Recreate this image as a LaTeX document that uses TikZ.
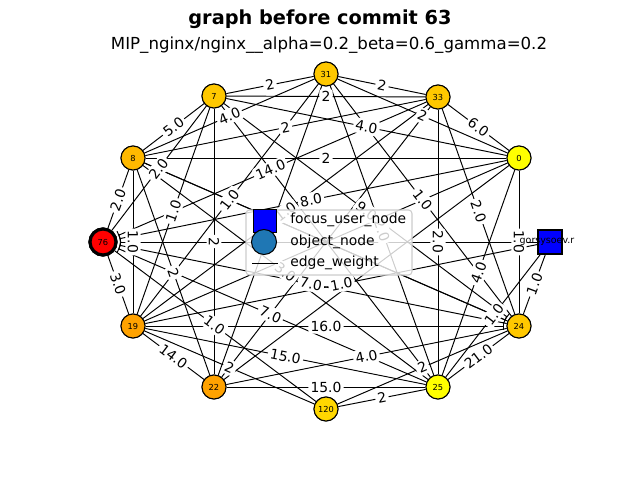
\documentclass[tikz,border=0pt]{standalone}
\usepackage{fontspec}
\setmainfont{DejaVu Sans}
\usetikzlibrary{arrows.meta}
\definecolor{cgold}{RGB}{255,200,0}
\definecolor{cgoldb}{RGB}{255,185,0}
\definecolor{corange}{RGB}{255,162,0}
\definecolor{cyel}{RGB}{255,255,0}
\definecolor{cgoldc}{RGB}{255,215,0}
\definecolor{mplblue}{RGB}{31,119,180}
\begin{document}
\begin{tikzpicture}[x=0.02cm,y=-0.02cm,
  obj/.style={circle,draw=black,line width=0.6pt,minimum size=0.48cm,inner sep=0pt,font=\fontsize{4.7}{5}\selectfont},
  edge/.style={draw=black,line width=0.55pt},
  lbl/.style={fill=white,inner sep=1.3pt,rounded corners=1.5pt,font=\fontsize{7.9}{8}\selectfont,sloped},
  intip/.style={-{Bar[width=5pt,line width=0.55pt]},shorten >=1.2pt},
  legtxt/.style={anchor=west,font=\fontsize{7.9}{8}\selectfont,inner sep=0pt}
]
\useasboundingbox (0,0) rectangle (640,480);
% titles
\node[font=\bfseries\fontsize{11}{13}\selectfont] (title) at (320,19) {graph before commit 63};
\node[font=\fontsize{9.45}{11}\selectfont] (sub) at (329,45) {MIP\_nginx/nginx\_\_alpha=0.2\_beta=0.6\_gamma=0.2};
% nodes
\node[obj,fill=cgold] (n31) at (326,74) {31};
\node[obj,fill=cgold] (n33) at (438,97) {33};
\node[obj,fill=cgold] (n7) at (214,96) {7};
\node[obj,fill=cgoldb] (n8) at (133,158) {8};
\node[obj,fill=cyel] (n0) at (519,158) {0};
\node[obj,fill=red,line width=1.8pt,minimum size=0.52cm] (n76) at (103,242) {76};
\node[draw=black,fill=blue,line width=0.6pt,minimum size=0.48cm,inner sep=0pt] (nsq) at (550,242) {};
\node[obj,fill=corange] (n19) at (133,326) {19};
\node[obj,fill=cgold] (n24) at (519,326) {24};
\node[obj,fill=corange] (n22) at (214,387) {22};
\node[obj,fill=cyel] (n25) at (438,387) {25};
\node[obj,fill=cgoldc] (n120) at (326,409) {120};
% edges
\foreach \a/\b in {n7/n31,n31/n33,n7/n33,n8/n7,n33/n0,n8/n31,n7/n0,n8/n33,n31/n0,n8/n0,
  n76/n7,n8/n76,n7/n19,n31/n19,n8/n19,n7/n22,n33/n25,n0/n24,n31/n24,n33/n24,
  nsq/n24,nsq/n25,n76/n19,n19/n22,n22/n25,n120/n25,n24/n25,n19/n25,n22/n24,n24/n120,
  n19/n120,n76/n120,n8/n22,n8/n25,n19/nsq,n0/n25,n33/n19,n31/n25,
  n31/n22,n7/n25,n0/n19,n0/n22,n33/n22,n8/n24}
  \draw[edge] (\a) -- (\b);
\foreach \a/\b in {n33/n76,n0/n76,nsq/n76,n24/n76,n25/n76,n19/n24,n8/n24,n7/n24}
  \draw[edge,intip] (\a) -- (\b);
% edge labels
\foreach \a/\b/\w in {n7/n31/2,n31/n33/2,n7/n33/2,n8/n7/5.0,n33/n0/6.0,n8/n31/4.0,n7/n0/4.0,
  n8/n33/2,n31/n0/2,n8/n0/2,n76/n33/14.0,n76/n7/2.0,n8/n76/2.0,n76/n0/8.0,n7/n19/1.0,
  n31/n19/1.0,n8/n19/1.0,n7/n22/2,n33/n25/2.0,n0/n24/1.0,n31/n24/1.0,n33/n24/2.0,
  nsq/n24/1.0,nsq/n25/1.0,n76/n19/3.0,n19/n22/14.0,n19/n24/16.0,n22/n25/15.0,n120/n25/2,
  n24/n25/21.0,n19/n25/15.0,n22/n24/4.0,n24/n120/2,n19/n120/2,n76/n120/1.0,n76/n25/7.0,
  n8/n22/2,n8/n25/3.0,n76/n24/7.0,n19/nsq/1.0,n0/n25/4.0,n33/n19/1.0,n7/n24/9.0,n31/n25/2.0}
  \path (\a.center) -- node[lbl] {\w} (\b.center);
% redraw nodes on top
\node[obj,fill=cgold] at (n31) {31};
\node[obj,fill=cgold] at (n33) {33};
\node[obj,fill=cgold] at (n7) {7};
\node[obj,fill=cgoldb] at (n8) {8};
\node[obj,fill=cyel] at (n0) {0};
\node[obj,fill=red,line width=1.8pt,minimum size=0.52cm] at (n76) {76};
\node[draw=black,fill=blue,line width=0.6pt,minimum size=0.48cm,inner sep=0pt] at (nsq) {};
\node[font=\fontsize{5.4}{6}\selectfont,inner sep=0pt] (sqlbl) at (547,242) {gorsysoev.r};
\node[obj,fill=corange] at (n19) {19};
\node[obj,fill=cgold] at (n24) {24};
\node[obj,fill=corange] at (n22) {22};
\node[obj,fill=cyel] at (n25) {25};
\node[obj,fill=cgoldc] at (n120) {120};
% legend
\draw[rounded corners=2pt,draw=black!20,fill=white,fill opacity=0.8,line width=0.6pt] (246,210) rectangle (412,275);
\node[draw=black,fill=blue,line width=0.6pt,minimum size=0.46cm,inner sep=0pt] (lgsq) at (265,221) {};
\node[circle,draw=black,fill=mplblue,line width=0.6pt,minimum size=0.5cm,inner sep=0pt] (lgci) at (264,242) {};
\coordinate (lgl1) at (252,263);
\coordinate (lgl2) at (278,263);
\draw[edge] (lgl1) -- (lgl2);
\node[legtxt] (lt1) at (290,220) {focus\_user\_node};
\node[legtxt] (lt2) at (290,242) {object\_node};
\node[legtxt] (lt3) at (290,263) {edge\_weight};
\end{tikzpicture}
\end{document}
